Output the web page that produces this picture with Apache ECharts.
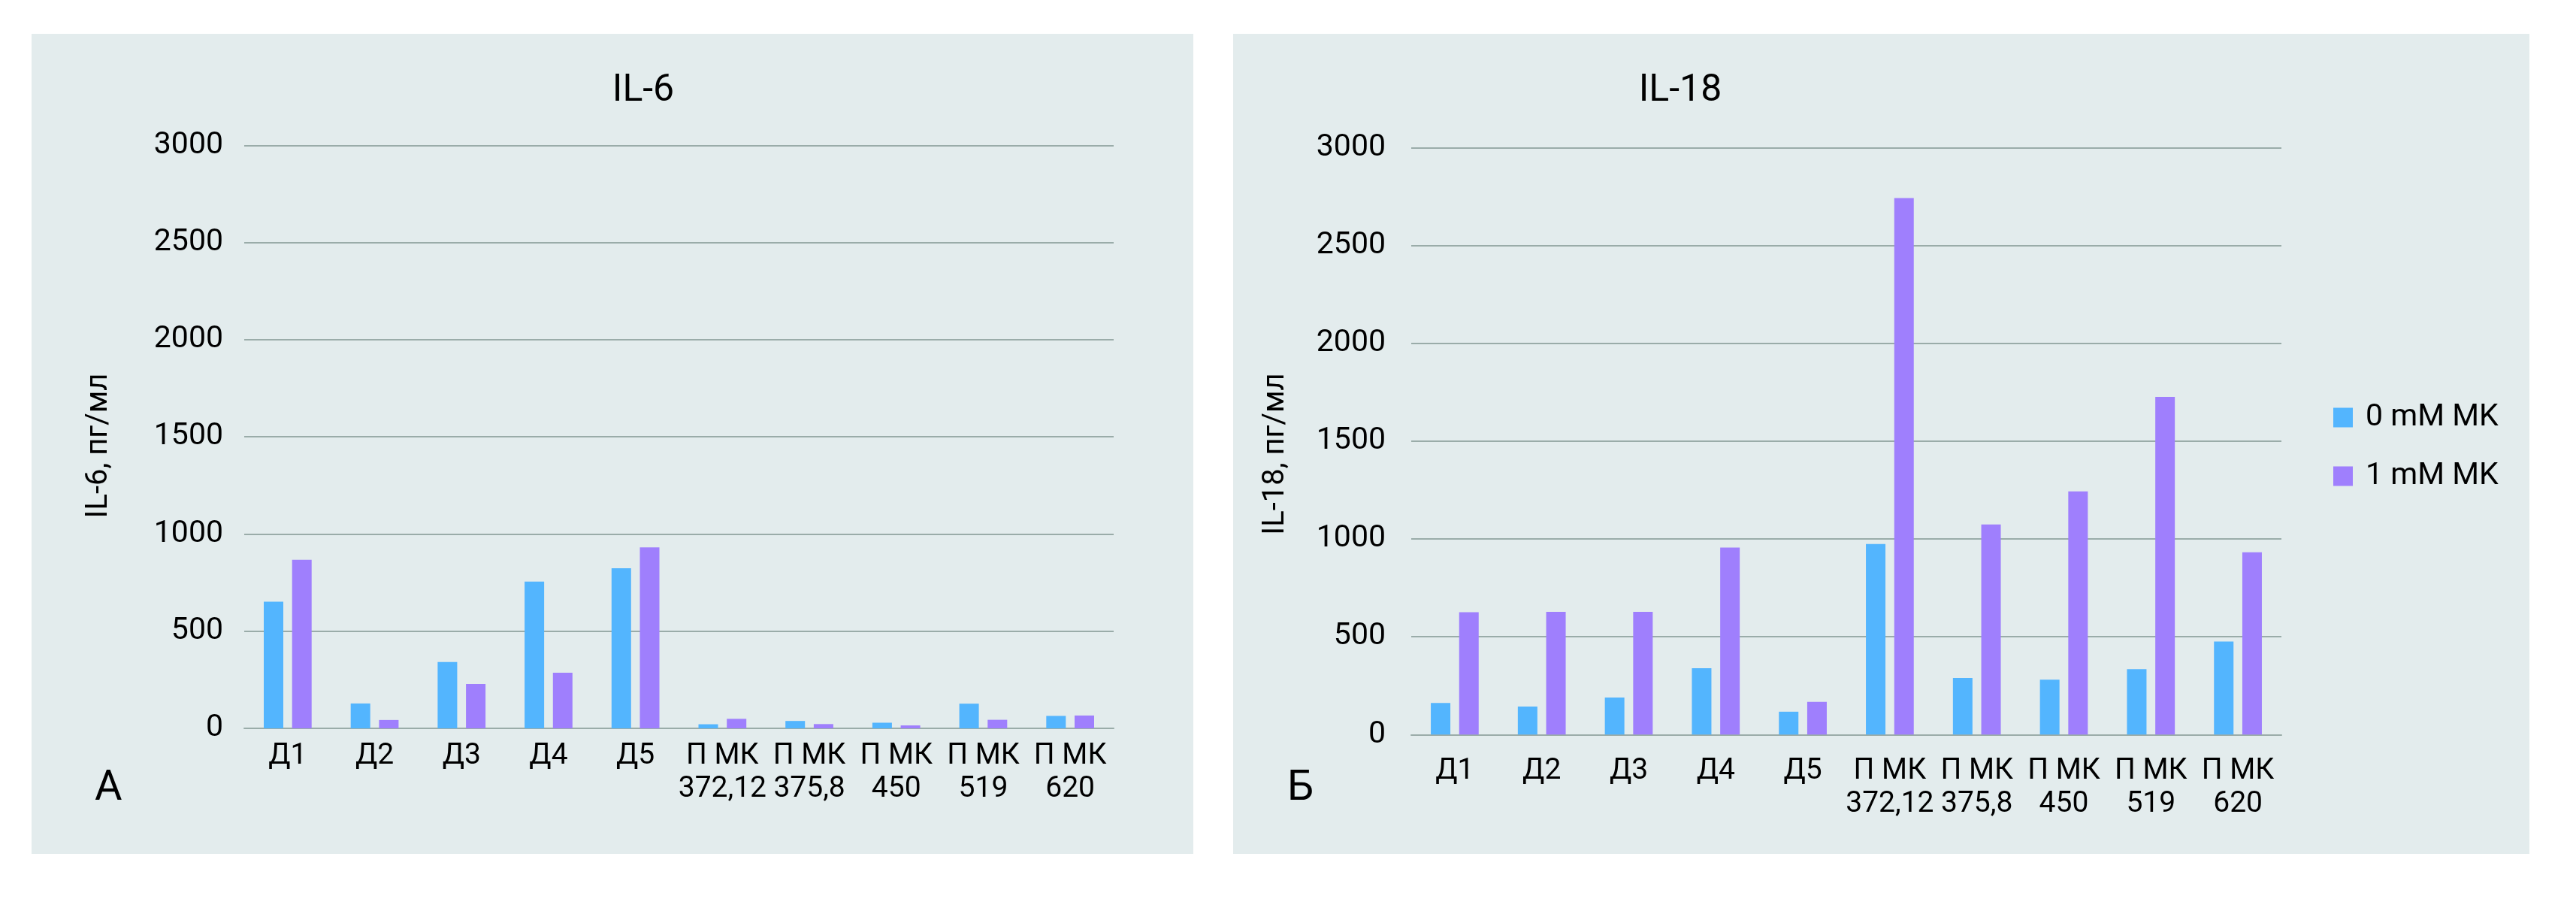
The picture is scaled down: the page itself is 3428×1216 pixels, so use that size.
<!DOCTYPE html>
<html>
<head>
<meta charset="utf-8">
<script src="https://cdn.jsdelivr.net/npm/echarts@6/dist/echarts.min.js"></script>
<style>
html,body{margin:0;padding:0;background:#ffffff;}
#c{width:3428px;height:1216px;}
</style>
</head>
<body>
<div id="c"></div>
<script>
const categories = ['Д1','Д2','Д3','Д4','Д5','П МК\n372,12','П МК\n375,8','П МК\n450','П МК\n519','П МК\n620'];
const seriesNames = ['0 mM MK','1 mM MK'];
const il6_0mM = [652,128,341,755,824,21,38,29,127,64];
const il6_1mM = [867,43,228,286,931,49,22,15,44,66];
const il18_0mM = [162,143,189,339,117,974,289,281,335,476];
const il18_1mM = [626,628,628,956,167,2743,1074,1243,1727,932];
const yTicks = [0,500,1000,1500,2000,2500,3000];

const FONT = 'Roboto';
const BLUE = '#53B5FE';
const PURPLE = '#9F7FFD';
const GRID = '#9AACA9';

const chart = echarts.init(document.getElementById('c'), null, {renderer:'canvas'});

function xAxis(gridIndex, margin){
  return {type:'category', gridIndex, data:categories,
    axisLine:{show:true, lineStyle:{color:GRID, width:2}},
    axisTick:{show:false},
    axisLabel:{color:'#000', fontFamily:FONT, fontSize:39, lineHeight:44, margin, interval:0}};
}
function yAxis(gridIndex, margin){
  return {type:'value', gridIndex, min:yTicks[0], max:yTicks[yTicks.length-1], interval:yTicks[1]-yTicks[0],
    axisLine:{show:false}, axisTick:{show:false},
    splitLine:{show:true, lineStyle:{color:GRID, width:2}},
    axisLabel:{color:'#000', fontFamily:FONT, fontSize:41, margin, formatter:function(v){return String(v);}}};
}
function bar(name, data, idx, color){
  return {type:'bar', name, data, xAxisIndex:idx, yAxisIndex:idx, barWidth:26, barGap:'45%',
    itemStyle:{color}, emphasis:{disabled:true}};
}

chart.setOption({
  animation:false,
  backgroundColor:'#ffffff',
  graphic:[
    {type:'rect', z:-10, shape:{x:42,y:45,width:1546,height:1091}, style:{fill:'#E3ECED'}},
    {type:'rect', z:-10, shape:{x:1641,y:45,width:1725,height:1091}, style:{fill:'#E3ECED'}},
    {type:'text', x:132, y:593, rotation:Math.PI/2, style:{text:'IL-6, пг/мл', fontFamily:FONT, fontSize:40, fill:'#000', align:'center', verticalAlign:'middle'}},
    {type:'text', x:1698, y:604, rotation:Math.PI/2, style:{text:'IL-18, пг/мл', fontFamily:FONT, fontSize:40, fill:'#000', align:'center', verticalAlign:'middle'}}
  ],
  title:[
    {text:'IL-6', left:851, top:91, textAlign:'center', textStyle:{fontFamily:FONT, fontSize:50, fontWeight:'normal', color:'#000'}},
    {text:'IL-18', left:2231, top:91, textAlign:'center', textStyle:{fontFamily:FONT, fontSize:50, fontWeight:'normal', color:'#000'}},
    {text:'А', left:121, top:1017, textStyle:{fontFamily:FONT, fontSize:56, fontWeight:'normal', color:'#000'}},
    {text:'Б', left:1708, top:1017, textStyle:{fontFamily:FONT, fontSize:56, fontWeight:'normal', color:'#000'}}
  ],
  legend:{orient:'vertical', left:3100, top:530, itemWidth:26, itemHeight:26, itemGap:37, icon:'rect',
    data:seriesNames, selectedMode:false,
    textStyle:{fontFamily:FONT, fontSize:41, color:'#000', padding:[0,0,0,12]}},
  grid:[
    {left:325, right:3428-1482, top:193.3, bottom:1216-969},
    {left:1878, right:3428-3036, top:196.7, bottom:1216-977.3}
  ],
  xAxis:[xAxis(0,15), xAxis(1,27)],
  yAxis:[yAxis(0,28), yAxis(1,34)],
  series:[
    bar(seriesNames[0], il6_0mM, 0, BLUE),
    bar(seriesNames[1], il6_1mM, 0, PURPLE),
    bar(seriesNames[0], il18_0mM, 1, BLUE),
    bar(seriesNames[1], il18_1mM, 1, PURPLE)
  ]
});
</script>
</body>
</html>
